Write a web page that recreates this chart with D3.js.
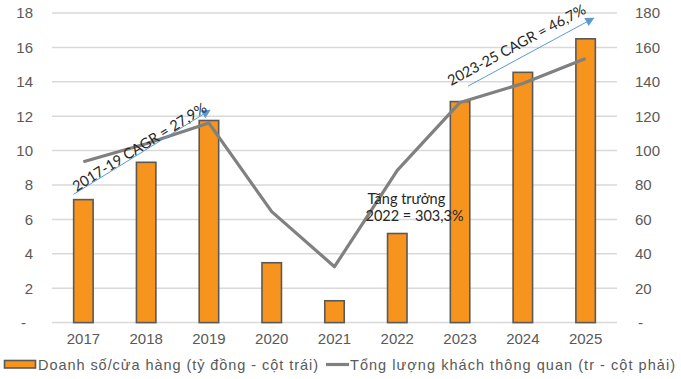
<!DOCTYPE html>
<html>
<head>
<meta charset="utf-8">
<script src="https://cdn.jsdelivr.net/npm/d3@7"></script>
<style>
  html, body { margin: 0; padding: 0; background: #fff; }
  svg { display: block; }
</style>
</head>
<body>
<svg id="chart" width="681" height="379"></svg>
<script>
// Years on the x axis
const years = ["2017", "2018", "2019", "2020", "2021", "2022", "2023", "2024", "2025"];
// Sales per store (billion VND, left axis)
const salesPerStore = [7.15, 9.32, 11.75, 3.48, 1.27, 5.18, 12.85, 14.55, 16.5];
// Total passengers through customs (million, right axis)
const passengers = [93.5, 104, 116, 64.5, 32.5, 88.5, 128, 139, 153.5];
// Axis ticks
const leftTicks = [0, 2, 4, 6, 8, 10, 12, 14, 16, 18];
const rightTicks = [0, 20, 40, 60, 80, 100, 120, 140, 160, 180];
// Legend labels
const legendLabels = ["Doanh số/cửa hàng (tỷ đồng - cột trái)", "Tổng lượng khách thông quan (tr - cột phải)"];
// Annotation texts
const cagr1 = "2017-19 CAGR = 27,9%";
const cagr2 = "2023-25 CAGR = 46,7%";
const growthLines = ["Tăng trưởng", "2022 = 303,3%"];

const svg = d3.select("#chart");
const plot = { left: 52, right: 617, top: 13, bottom: 322.6 };

const x = d3.scaleBand().domain(years).range([plot.left, plot.right])
  .paddingInner(0.69).paddingOuter(0.345);
const yL = d3.scaleLinear().domain([0, 18]).range([plot.bottom, plot.top]);
const yR = d3.scaleLinear().domain([0, 180]).range([plot.bottom, plot.top]);
const cx = d => x(d) + x.bandwidth() / 2;

const axisFont = "Liberation Sans, Arial, sans-serif";
const noteFont = "Lato, 'Open Sans', sans-serif";
const tickColor = "#595959";

// Horizontal gridlines
svg.append("g").selectAll("line").data(leftTicks).join("line")
  .attr("x1", plot.left).attr("x2", plot.right)
  .attr("y1", d => yL(d)).attr("y2", d => yL(d))
  .attr("stroke", "#d9d9d9").attr("stroke-width", 1.5);

// Left axis
const leftAxis = svg.append("g").attr("transform", `translate(${plot.left},0)`)
  .call(d3.axisLeft(yL).tickValues(leftTicks).tickSize(0).tickPadding(19)
    .tickFormat(d => d === 0 ? "-" : d));
leftAxis.select(".domain").remove();
leftAxis.selectAll("text").attr("font-family", axisFont).attr("font-size", 15)
  .attr("fill", tickColor)
  .attr("dx", d => d === 0 ? -7 : 0);

// Right axis
const rightAxis = svg.append("g").attr("transform", `translate(${plot.right},0)`)
  .call(d3.axisRight(yR).tickValues(rightTicks).tickSize(0).tickPadding(18)
    .tickFormat(d => d === 0 ? "-" : d));
rightAxis.select(".domain").remove();
rightAxis.selectAll("text").attr("font-family", axisFont).attr("font-size", 15)
  .attr("fill", tickColor)
  .attr("dx", d => d === 0 ? 3 : 0);

// Bottom axis (year labels)
const bottomAxis = svg.append("g").attr("transform", `translate(0,${plot.bottom})`)
  .call(d3.axisBottom(x).tickSize(0).tickPadding(11));
bottomAxis.select(".domain").remove();
bottomAxis.selectAll("text").attr("font-family", axisFont).attr("font-size", 15)
  .attr("fill", tickColor);

// Bars: sales per store
svg.append("g").selectAll("rect").data(years).join("rect")
  .attr("x", d => x(d))
  .attr("width", x.bandwidth())
  .attr("y", (d, i) => yL(salesPerStore[i]))
  .attr("height", (d, i) => yL(0) - yL(salesPerStore[i]))
  .attr("fill", "#F7941D")
  .attr("stroke", "#595959").attr("stroke-width", 1.6);

// Line: passengers
const line = d3.line().x(d => cx(d[0])).y(d => yR(d[1]));
svg.append("path")
  .datum(years.map((y, i) => [y, passengers[i]]))
  .attr("d", line)
  .attr("fill", "none").attr("stroke", "#808080").attr("stroke-width", 3.2)
  .attr("stroke-linejoin", "round");

// Arrow marker for CAGR annotations
svg.append("defs").append("marker")
  .attr("id", "arrowhead").attr("viewBox", "0 0 10 10")
  .attr("refX", 9).attr("refY", 5)
  .attr("markerWidth", 11).attr("markerHeight", 9)
  .attr("markerUnits", "userSpaceOnUse")
  .attr("orient", "auto")
  .append("path").attr("d", "M0,0 L10,5 L0,10 Z").attr("fill", "#5b9bd5");

function cagrNote(p0, p1, label, textStart) {
  svg.append("line")
    .attr("x1", p0[0]).attr("y1", p0[1]).attr("x2", p1[0]).attr("y2", p1[1])
    .attr("stroke", "#5b9bd5").attr("stroke-width", 1)
    .attr("marker-end", "url(#arrowhead)");
  const ang = Math.atan2(p1[1] - p0[1], p1[0] - p0[0]) * 180 / Math.PI;
  svg.append("text")
    .attr("transform", `translate(${textStart[0]},${textStart[1]}) rotate(${ang})`)
    .attr("font-family", noteFont).attr("font-size", 14.5)
    .attr("fill", "#262626")
    .text(label);
}

cagrNote([cx("2017") - 10, yL(7.45)], [cx("2019") + 1, yL(12.35)], cagr1,
  [cx("2017") - 7, yL(7.6)]);
cagrNote([cx("2023") + 8, yL(13.75)], [cx("2025") + 8, yL(17.7)], cagr2,
  [cx("2023") - 9, yL(13.75)]);

// 2022 growth note
svg.append("text")
  .attr("y", yL(6.9))
  .attr("font-family", noteFont).attr("font-size", 14.5).attr("fill", "#262626")
  .selectAll("tspan").data(growthLines).join("tspan")
  .attr("x", (d, i) => cx("2021") + (i === 0 ? 33 : 31))
  .attr("dy", (d, i) => i === 0 ? 0 : 17.5)
  .text(d => d);

// Legend
const legend = svg.append("g").attr("font-family", axisFont).attr("font-size", 14.5)
  .attr("fill", tickColor);
legend.append("rect").attr("x", 4.5).attr("y", 360.5).attr("width", 31).attr("height", 7.5)
  .attr("fill", "#F7941D").attr("stroke", "#595959").attr("stroke-width", 1.6);
legend.append("text").attr("x", 38).attr("y", 369.5)
  .attr("textLength", 280).attr("lengthAdjust", "spacing").text(legendLabels[0]);
legend.append("line").attr("x1", 326).attr("x2", 349).attr("y1", 364.5).attr("y2", 364.5)
  .attr("stroke", "#808080").attr("stroke-width", 3.2);
legend.append("text").attr("x", 350).attr("y", 369.5)
  .attr("textLength", 325).attr("lengthAdjust", "spacing").text(legendLabels[1]);
</script>
</body>
</html>
